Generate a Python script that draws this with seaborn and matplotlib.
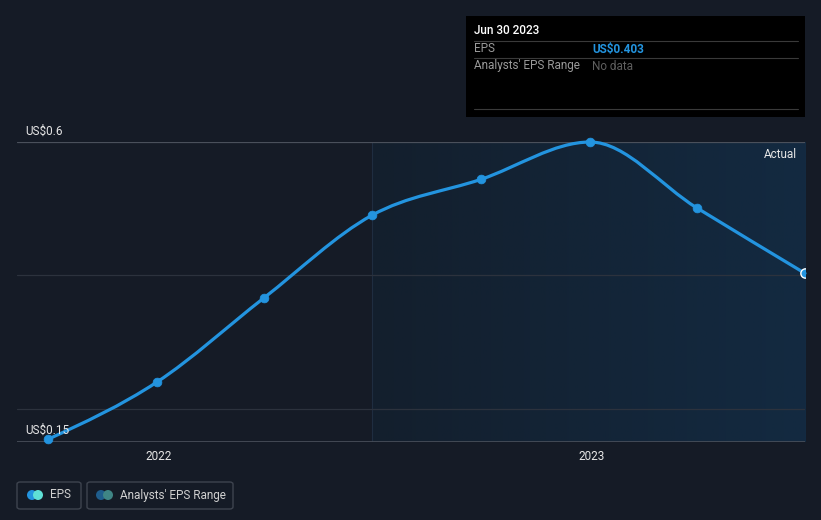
import numpy as np
import pandas as pd
import matplotlib
matplotlib.use("Agg")
import matplotlib.pyplot as plt
import matplotlib.dates as mdates
from matplotlib.path import Path
from matplotlib.patches import PathPatch, FancyBboxPatch, Rectangle, Ellipse
from matplotlib.colors import LinearSegmentedColormap
import seaborn as sns

# data
dates = ["2021-09-30", "2021-12-31", "2022-03-31", "2022-06-30",
         "2022-09-30", "2022-12-31", "2023-03-31", "2023-06-30"]
eps = [0.154, 0.240, 0.366, 0.490, 0.544, 0.600, 0.501, 0.403]
tick_years = ["2022", "2023"]
y_labels = ["US$0.6", "US$0.15"]

BG = "#151b26"
LINE = "#2394df"

sns.set_theme(style="dark")
plt.rcParams['font.family'] = ['Roboto', 'DejaVu Sans']

df = pd.DataFrame({"date": pd.to_datetime(dates), "eps": eps})
df["x"] = mdates.date2num(df["date"])

W, H = 821, 520
fig = plt.figure(figsize=(W / 100, H / 100), dpi=100, facecolor=BG)
ax = fig.add_axes([17 / W, (H - 442) / H, (805 - 17) / W, 300 / H])
ax.set_facecolor(BG)

xmin = mdates.date2num(pd.Timestamp("2021-09-04"))
xmax = df["x"].iloc[-1]
ax.set_xlim(xmin, xmax)
ax.set_ylim(0.15, 0.6)

# shaded "actual" region from Jun 2022 on, with a light gradient
x_split = df["x"].iloc[3]
cmap = LinearSegmentedColormap.from_list("shade", ["#131f2d", "#132a41"])
grad = np.linspace(0, 1, 256).reshape(1, -1)
ax.imshow(grad, extent=[x_split, xmax, 0.15, 0.6], aspect="auto", cmap=cmap,
          zorder=0, origin="lower")
ax.axvline(x_split, color="#1f2d40", lw=0.8, zorder=1)

# grid lines
for yv, col in [(0.2, "#2c323d"), (0.4, "#2c323d"), (0.6, "#4a505b")]:
    ax.axhline(yv, color=col, lw=0.9, zorder=1)
ax.axhline(0.15, color="#4a505b", lw=1.2, zorder=1)

# smooth monotone curve through the points (d3 curveMonotoneX style)
xs = df["x"].to_numpy()
ys = df["eps"].to_numpy()
h = np.diff(xs)
s = np.diff(ys) / h
t = np.zeros_like(ys)
for i in range(1, len(ys) - 1):
    if s[i - 1] * s[i] <= 0:
        t[i] = 0
    else:
        p = (s[i - 1] * h[i] + s[i] * h[i - 1]) / (h[i - 1] + h[i])
        t[i] = (np.sign(s[i - 1]) + np.sign(s[i])) * min(abs(s[i - 1]), abs(s[i]), 0.5 * abs(p))
t[0] = (3 * s[0] - t[1]) / 2
t[-1] = (3 * s[-1] - t[-2]) / 2
verts = [(xs[0], ys[0])]
codes = [Path.MOVETO]
for i in range(len(xs) - 1):
    d = h[i] / 3
    verts += [(xs[i] + d, ys[i] + d * t[i]), (xs[i + 1] - d, ys[i + 1] - d * t[i + 1]), (xs[i + 1], ys[i + 1])]
    codes += [Path.CURVE4] * 3
ax.add_patch(PathPatch(Path(verts, codes), fill=False, edgecolor=LINE, lw=2.3,
                       zorder=3, capstyle="round", clip_on=False))

sns.scatterplot(data=df.iloc[:-1], x="x", y="eps", ax=ax, color=LINE, s=40,
                edgecolor=LINE, zorder=4, clip_on=False, legend=False)
ax.scatter(df["x"].iloc[-1], df["eps"].iloc[-1], s=45, color=LINE,
           edgecolor="white", linewidth=1.0, zorder=5, clip_on=True)

# axes styling
ax.set_xlabel("")
ax.set_ylabel("")
ax.set_yticks([])
tick_pos = [mdates.date2num(pd.Timestamp(f"{y}-01-01")) for y in tick_years]
ax.set_xticks(tick_pos)
ax.set_xticklabels(tick_years, color="#e6e6e6", fontsize=8.5)
ax.tick_params(axis="x", length=4, width=1, color="#4a505b", pad=2)
for sp in ax.spines.values():
    sp.set_visible(False)
ax.grid(False)


def px(x, y):
    return x / W, 1 - y / H


fig.text(*px(25, 131), y_labels[0], color="#e6e6e6", fontsize=8.5, va="center")
fig.text(*px(25, 430), y_labels[1], color="#e6e6e6", fontsize=8.5, va="center")
fig.text(*px(797, 154), "Actual", color="#e6e6e6", fontsize=8.5, va="center", ha="right")

# tooltip box
fig.patches.append(Rectangle(px(466, 117), (805 - 466) / W, (117 - 16) / H,
                             transform=fig.transFigure, facecolor="black",
                             edgecolor="none", zorder=10))
fig.text(*px(474, 31), "Jun 30 2023", color="white", fontsize=8.5, fontweight="medium",
         va="center", zorder=11)
for yl in [41, 58, 109]:
    fig.add_artist(plt.Line2D([474 / W, 798 / W], [1 - yl / H] * 2, color="#3a3a3a",
                              lw=0.8, transform=fig.transFigure, zorder=11))
fig.text(*px(474, 49), "EPS", color="#9a9a9a", fontsize=8.5, va="center", zorder=11)
fig.text(*px(592, 49), "US$0.403", color=LINE, fontsize=8.5, fontweight="bold", va="center", zorder=11)
fig.text(*px(474, 66), "Analysts' EPS Range", color="#9a9a9a", fontsize=8.5, va="center", zorder=11)
fig.text(*px(592, 66), "No data", color="#5f5f5f", fontsize=8.5, va="center", zorder=11)

# legend boxes
for x0, x1 in [(17, 81), (87, 233)]:
    fig.patches.append(FancyBboxPatch(px(x0, 509), (x1 - x0) / W, 27 / H,
                                      boxstyle="round,pad=0,rounding_size=0.004",
                                      transform=fig.transFigure, facecolor="none",
                                      edgecolor="#3e444f", lw=1))
for cx, col in [(32, LINE), (38, "#5fe0d6"), (101, "#1f5d8c"), (108, "#3f8585")]:
    fig.patches.append(Ellipse(px(cx, 495), 10 / W, 10 / H, transform=fig.transFigure,
                               facecolor=col, edgecolor="none"))
fig.text(*px(50, 495), "EPS", color="#d0d0d0", fontsize=8.5, va="center")
fig.text(*px(120, 495), "Analysts' EPS Range", color="#d0d0d0", fontsize=8.5, va="center")

fig.savefig("out.png", dpi=100, facecolor=BG)
